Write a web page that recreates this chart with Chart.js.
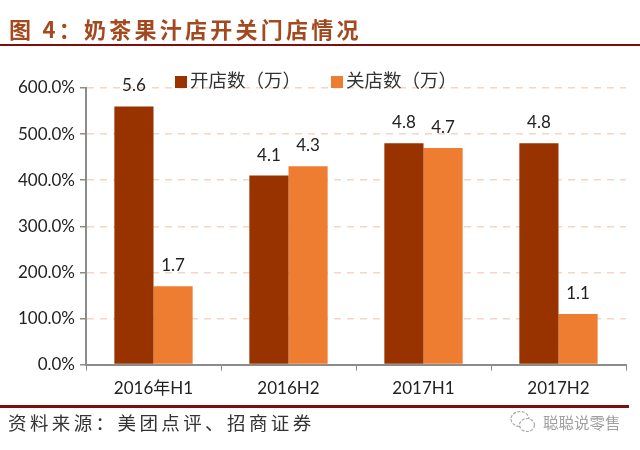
<!DOCTYPE html>
<html>
<head>
<meta charset="utf-8">
<script src="https://cdn.jsdelivr.net/npm/chart.js@4"></script>
<style>
  html, body { margin: 0; padding: 0; background: #fff; }
  #wrap { position: relative; width: 640px; height: 450px; overflow: hidden; }
  #chart-box { position: absolute; left: 0; top: 0; width: 640px; height: 450px; }
  .txt { position: absolute; white-space: nowrap; font-family: "Noto Sans CJK SC", sans-serif; }
  #title { left: 9px; top: 13px; font-size: 22px; font-weight: 700; color: #a4481f; letter-spacing: 3.25px; line-height: 30px; }
  #source { left: 8px; top: 408px; font-size: 18.5px; color: #333; letter-spacing: 3.4px; line-height: 28px; }
  #mark { left: 543px; top: 411px; font-size: 15.5px; color: #a0a0a0; line-height: 22px; }
  #wx { position: absolute; left: 509px; top: 410px; }
  .rule { position: absolute; left: 0; height: 2px; background: #7d0f0f; }
  #legend { position: absolute; left: 175px; top: 67px; height: 24px; font-family: "Noto Sans CJK SC", sans-serif; font-size: 18.5px; color: #333; line-height: 24px; white-space: nowrap; }
  #legend span.sw { display: inline-block; width: 12px; height: 12px; margin-right: 3px; vertical-align: -1px; }
  #legend span.item { display: inline-block; width: 156px; }
</style>
</head>
<body>
<div id="wrap">
  <div id="chart-box"><canvas id="chart"></canvas></div>
  <div id="title" class="txt">图 4：奶茶果汁店开关门店情况</div>
  <div class="rule" style="top:44px;width:640px"></div>
  <div id="legend"></div>
  <div class="rule" style="top:405px;width:629px;height:3px"></div>
  <div id="source" class="txt">资料来源：美团点评、招商证券</div>
  <svg id="wx" width="28" height="24" viewBox="0 0 28 24" fill="none" stroke="#a8a8a8" stroke-width="1.2" stroke-dasharray="3 1.5">
    <ellipse cx="11" cy="9" rx="9" ry="7.5"></ellipse>
    <ellipse cx="18" cy="15" rx="7.5" ry="6.5" fill="#fff"></ellipse>
  </svg>
  <div id="mark" class="txt">聪聪说零售</div>
</div>
<script>
const categories = ['2016年H1', '2016H2', '2017H1', '2017H2'];
const openStores = [5.6, 4.1, 4.8, 4.8];
const closeStores = [1.7, 4.3, 4.7, 1.1];
const seriesNames = ['开店数（万）', '关店数（万）'];
const seriesColors = ['#983300', '#ee7d31'];
const yTicks = [0, 100, 200, 300, 400, 500, 600];

// bars sit on a 0-600% axis, the label shows the raw value in 万
const toPct = v => v * 100;
const LABEL_FONT = 'Lato, "Noto Sans CJK SC", sans-serif';

document.getElementById('legend').innerHTML = seriesNames.map((name, i) =>
  `<span class="item"><span class="sw" style="background:${seriesColors[i]}"></span>${name}</span>`
).join('');

const barLabels = {
  id: 'barLabels',
  afterDatasetsDraw(chart) {
    const ctx = chart.ctx;
    ctx.save();
    ctx.font = '17px ' + LABEL_FONT;
    ctx.fillStyle = '#222';
    ctx.textAlign = 'center';
    ctx.textBaseline = 'bottom';
    [openStores, closeStores].forEach((vals, d) => {
      chart.getDatasetMeta(d).data.forEach((bar, i) => {
        ctx.fillText(vals[i].toFixed(1), bar.x, bar.y - 12);
      });
    });
    ctx.restore();
  }
};

new Chart(document.getElementById('chart'), {
  type: 'bar',
  data: {
    labels: categories,
    datasets: [
      { label: seriesNames[0], data: openStores.map(toPct), backgroundColor: seriesColors[0] },
      { label: seriesNames[1], data: closeStores.map(toPct), backgroundColor: seriesColors[1] },
    ]
  },
  options: {
    responsive: true,
    maintainAspectRatio: false,
    animation: false,
    layout: { padding: { top: 88, right: 14, bottom: 43, left: 0 } },
    datasets: { bar: { barPercentage: 1, categoryPercentage: 0.58 } },
    plugins: { legend: { display: false }, tooltip: { enabled: false } },
    scales: {
      x: {
        grid: { offset: true, drawOnChartArea: false, color: '#8c8c8c', tickLength: 6 },
        border: { color: '#8c8c8c', width: 2 },
        ticks: { color: '#222', font: { family: LABEL_FONT, size: 17 }, padding: 8, maxRotation: 0 },
      },
      y: {
        min: 0,
        max: 600,
        afterFit(axis) { axis.width = 86; },
        afterBuildTicks(axis) { axis.ticks = yTicks.map(v => ({ value: v })); },
        grid: { color: '#f4d6c4', lineWidth: 1.5, tickColor: '#8c8c8c', tickLength: 6 },
        border: { color: '#8c8c8c', width: 2, dash: [7, 6] },
        ticks: {
          color: '#222',
          font: { family: LABEL_FONT, size: 17 },
          padding: 5,
          callback: v => v.toFixed(1) + '%',
        },
      }
    }
  },
  plugins: [barLabels]
});
</script>
</body>
</html>
